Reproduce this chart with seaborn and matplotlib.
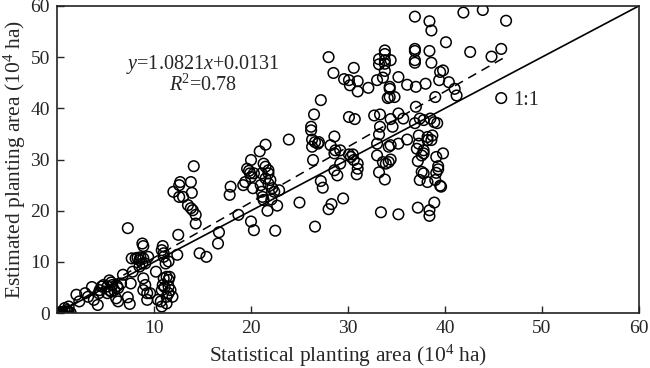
"""
Scatter of estimated vs. statistical planting area with 1:1 line and fitted regression.
"""
import numpy as np
import pandas as pd
import matplotlib
matplotlib.use("Agg")
import matplotlib.pyplot as plt
import seaborn as sns

# --- Data (units: 10^4 ha) ---
stat_low = [0.3, 0.5, 0.8, 1.1, 1.2, 0.8, 1.0, 0.6, 1.4, 0.3, 1.2,
            2.0, 2.3, 2.9, 3.2, 3.6, 3.8, 4.2, 4.3, 4.4, 4.6, 4.8,
            5.2, 5.4, 5.4, 5.6, 5.7, 5.2, 5.6, 5.9, 6.2, 6.3, 6.1, 6.3, 6.6,
            6.8, 7.3, 7.5, 7.6]
est_low = [0.2, 0.2, 0.3, 0.3, 0.3, 1.0, 0.6, 0.1, 0.1, 0.0, 1.3,
           3.6, 2.3, 3.9, 3.2, 5.1, 2.6, 1.6, 3.9, 4.5, 5.2, 5.5,
           5.2, 6.4, 4.5, 6.0, 5.5, 3.9, 4.2, 4.5, 5.3, 4.9, 2.9, 2.3, 5.8,
           7.5, 3.1, 1.8, 5.8]

stat_mid = [7.3, 10.8, 10.9, 8.8, 8.9, 11.0, 11.0, 11.5, 11.2,
            7.7, 8.1, 8.3, 8.6, 8.9, 8.5, 8.8, 9.1, 9.4, 7.8, 8.5,
            8.9, 9.1, 8.9, 9.3, 9.3, 10.2, 9.6, 10.4, 10.8, 10.7,
            11.0, 11.3, 11.5, 11.6, 10.9, 11.1, 10.8, 11.5, 11.7,
            11.5, 11.3, 11.9, 11.3,
            14.1, 13.8, 13.9, 12.7, 12.6, 12.0, 12.6, 13.0, 13.5, 13.8,
            14.0, 14.3, 14.3, 12.5, 12.4, 14.7, 15.4, 16.7, 16.6]
est_mid = [16.6, 12.3, 13.1, 13.6, 13.1, 11.7, 11.0, 10.1, 9.7,
           10.7, 10.7, 10.8, 10.9, 10.7, 10.4, 9.7, 9.7, 11.0, 8.1, 9.1,
           6.8, 5.5, 4.5, 3.9, 2.6, 8.1, 3.9, 2.6, 1.3, 2.3,
           6.8, 7.1, 6.5, 7.1, 5.5, 5.1, 4.5, 5.2, 4.5,
           3.9, 3.2, 3.2, 1.9,
           28.7, 25.6, 23.5, 25.6, 25.0, 23.7, 22.7, 22.7, 21.1, 20.5,
           20.1, 19.2, 17.5, 15.3, 11.4, 11.7, 11.0, 15.8, 13.6]

stat_20 = [21.5, 20.9, 20.0, 19.6, 19.8, 19.9, 20.0, 20.3, 19.4, 19.2, 20.2,
           21.3, 21.5, 21.8, 21.1, 21.8, 21.5, 22.0, 21.8, 21.0, 21.1, 21.2,
           21.3, 22.2, 22.4, 22.9, 22.1, 22.7, 21.7, 20.0, 20.3, 22.5,
           17.9, 17.8, 18.7, 23.9, 25.0]
est_20 = [32.9, 31.6, 29.9, 28.2, 27.8, 27.3, 26.6, 27.3, 25.6, 25.0, 24.4,
          29.2, 28.6, 27.9, 27.3, 27.3, 26.3, 26.0, 25.3, 25.0, 23.7, 22.7,
          22.1, 24.4, 23.7, 24.0, 22.2, 21.0, 20.0, 17.9, 16.2, 16.1,
          24.7, 23.1, 19.2, 33.9, 21.6]

stat_30 = [26.3, 26.6, 26.3, 26.9, 27.0, 26.4, 28.2, 28.6, 28.7, 28.6, 29.2,
           30.1, 30.5, 30.3, 30.6, 31.0, 31.0, 30.9, 29.2, 28.6, 28.9, 27.2,
           27.4, 29.5, 28.3, 28.0, 26.6, 26.2, 26.2, 26.5, 27.2,
           30.1, 30.7, 32.7, 33.3, 34.4, 35.2, 35.7, 34.6, 33.3,
           36.1, 35.2, 34.4, 34.2, 33.0, 33.2, 34.2, 33.9, 34.4, 33.6, 33.0,
           33.2, 33.8, 33.4, 35.2]
est_30 = [33.9, 33.4, 32.5, 33.1, 33.4, 29.9, 32.8, 34.5, 31.8, 31.2, 31.8,
          31.0, 31.0, 30.5, 29.9, 29.2, 28.2, 27.1, 29.2, 27.9, 26.9, 25.8,
          24.5, 22.4, 21.3, 20.3, 16.9, 36.4, 35.7, 38.8, 41.6,
          38.3, 37.9, 38.6, 38.8, 37.9, 39.0, 38.0, 36.4, 36.4,
          33.9, 33.1, 32.8, 32.5, 33.1, 34.9, 29.5, 29.2, 30.0, 29.5, 30.8,
          27.5, 26.1, 19.7, 19.3]

stat_38 = [36.9, 37.4, 37.8, 38.5, 38.9, 39.2, 37.3, 37.3, 38.2, 38.6, 38.7,
           38.2, 37.8, 37.8, 37.6, 37.1, 39.8, 39.1, 37.2, 37.6, 37.8, 37.4,
           38.2, 39.0, 39.3, 39.3, 39.1, 39.5, 39.6, 37.2, 38.4, 38.4, 38.9,
           45.8]
est_38 = [37.1, 38.0, 37.7, 38.0, 37.3, 37.1, 34.7, 33.1, 33.8, 33.8, 34.7,
          34.4, 31.8, 31.2, 30.8, 32.1, 31.2, 30.5, 29.7, 27.6, 27.3, 26.0,
          25.6, 26.0, 28.7, 28.1, 27.4, 24.9, 24.7, 20.6, 20.1, 19.0, 21.6,
          42.0]

stat_high = [43.9, 41.9, 36.9, 38.4, 46.3, 38.6, 40.1, 42.6, 45.8, 44.8, 38.4,
             36.9, 36.9, 36.9, 36.9, 38.6, 33.8, 33.8, 33.8, 33.8, 33.8,
             33.2, 33.2, 34.4, 35.2, 33.0, 33.6, 34.3, 34.3, 34.3, 34.1, 34.8,
             37.0, 38.0, 39.5, 39.8, 39.4, 40.4, 41.0, 41.2, 39.0,
             28.0, 28.5, 30.6, 29.6, 30.1, 30.2, 31.0, 31.0, 32.1, 36.1, 37.0]
est_high = [59.2, 58.7, 57.9, 57.0, 57.1, 55.2, 52.9, 51.0, 51.6, 50.1, 51.2,
            51.6, 51.2, 49.4, 48.9, 48.9, 51.3, 50.6, 49.4, 48.7, 47.3,
            49.6, 48.6, 49.4, 46.1, 45.5, 46.0, 44.2, 43.8, 42.2, 42.0, 42.2,
            44.2, 44.8, 47.1, 47.4, 45.5, 45.1, 43.8, 42.5, 42.2,
            50.0, 46.9, 47.9, 45.7, 45.5, 44.5, 45.3, 43.3, 44.0, 44.6, 40.3]

SLOPE, INTERCEPT = 1.0821, 0.0131
FIT_X = [0, 46]
ONE_TO_ONE = [0, 60]

df = pd.DataFrame({
    "stat": stat_low + stat_mid + stat_20 + stat_30 + stat_38 + stat_high,
    "est": est_low + est_mid + est_20 + est_30 + est_38 + est_high,
})

sns.set_style("ticks")
plt.rcParams["font.family"] = ["Liberation Serif", "DejaVu Serif"]
plt.rcParams["mathtext.fontset"] = "custom"
plt.rcParams["mathtext.rm"] = "Liberation Serif"
plt.rcParams["mathtext.it"] = "Liberation Serif:italic"

fig = plt.figure(figsize=(6.5, 3.68), dpi=100)
ax = fig.add_axes([0.0877, 0.149, 0.8953, 0.835])

sns.scatterplot(data=df, x="stat", y="est", ax=ax, marker="o", s=58,
                facecolor="none", edgecolor="black", linewidth=1.1, legend=False)

ax.plot(ONE_TO_ONE, ONE_TO_ONE, color="black", lw=1.2)
fx = np.array(FIT_X)
ax.plot(fx, SLOPE * fx + INTERCEPT, color="black", lw=1.1, ls=(0, (6, 4)))

ax.set_xlim(0, 60)
ax.set_ylim(0, 60)
ax.set_xticks([10, 20, 30, 40, 50, 60])
ax.set_yticks([0, 10, 20, 30, 40, 50, 60])
ax.tick_params(direction="in", length=5, labelsize=14, width=1, pad=5)
for sp in ax.spines.values():
    sp.set_linewidth(1.2)
    sp.set_color("#222222")

ax.set_xlabel("Statistical planting area (10$^4$ ha)", fontsize=15.5, labelpad=4)
ax.set_ylabel("Estimated planting area (10$^4$ ha)", fontsize=15.5, labelpad=2)

ax.text(15.0, 48.6, "$y$=1.0821$x$+0.0131", fontsize=14.5, ha="center", va="center")
ax.text(15.0, 44.6, "$R$$^2$=0.78", fontsize=14.5, ha="center", va="center")
ax.text(47.0, 41.6, "1:1", fontsize=14.5, ha="left", va="center")

fig.savefig("out.png", dpi=100)
